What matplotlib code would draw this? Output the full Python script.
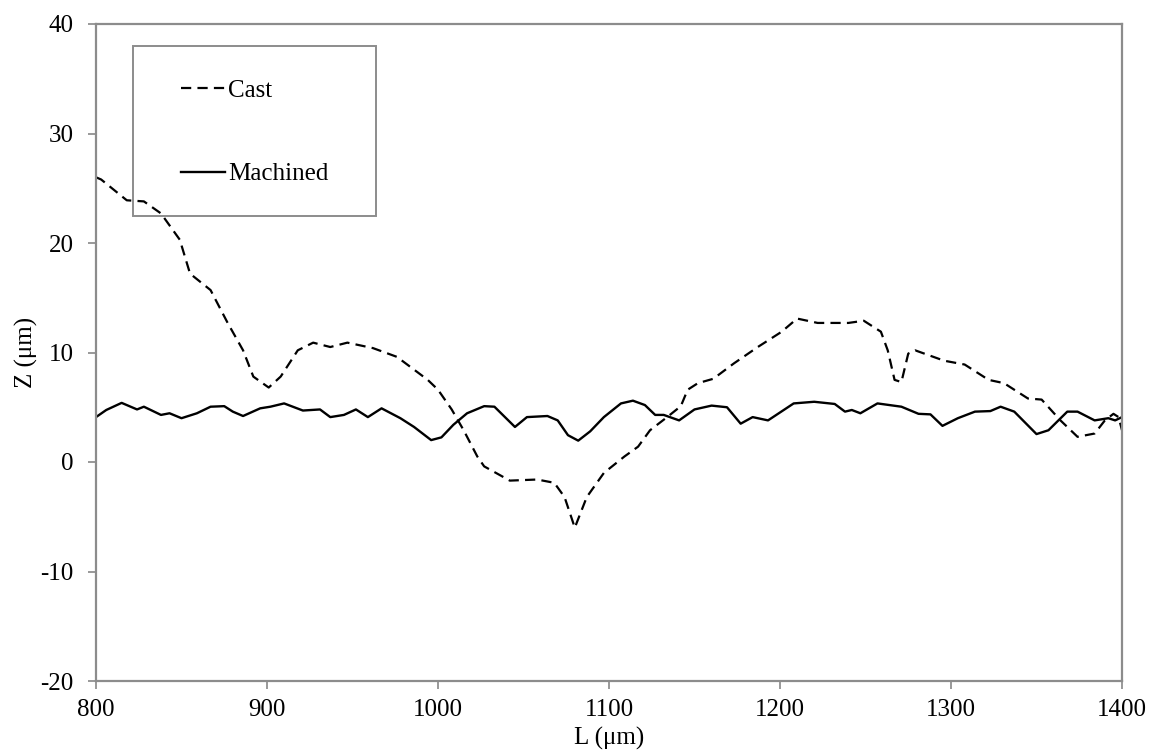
import numpy as np
import matplotlib.pyplot as plt
from matplotlib.patches import Rectangle

# profile of the cast surface (L in um, Z in um)
cast_L = [800, 803, 818, 828, 838, 849, 855, 867, 877, 886, 892, 901, 908, 918, 927,
          937, 947, 962, 976, 994, 1000, 1008, 1015, 1023, 1027, 1042, 1058, 1068, 1074,
          1080, 1087, 1097, 1109, 1117, 1124, 1134, 1142, 1146, 1152, 1161, 1173, 1187,
          1201, 1210, 1222, 1232, 1240, 1249, 1259, 1263, 1267, 1271, 1275, 1279, 1296,
          1308, 1322, 1331, 1345, 1353, 1364, 1374, 1384, 1390, 1395, 1398, 1400]
cast_Z = [26.0, 25.8, 23.9, 23.8, 22.7, 20.3, 17.2, 15.7, 12.7, 10.2, 7.8, 6.8, 7.8, 10.2, 10.9,
          10.5, 10.9, 10.4, 9.6, 7.5, 6.6, 4.8, 2.9, 0.5, -0.4, -1.7, -1.6, -1.9, -3.2,
          -6.0, -3.2, -1.0, 0.5, 1.4, 2.9, 4.1, 5.1, 6.6, 7.2, 7.6, 9.0, 10.5,
          11.9, 13.1, 12.7, 12.7, 12.7, 12.9, 11.9, 10.2, 7.5, 7.3, 9.9, 10.2, 9.25,
          8.9, 7.5, 7.2, 5.8, 5.7, 3.8, 2.3, 2.6, 3.8, 4.4, 4.1, 2.9]

# profile of the machined surface
mach_L = [800, 806, 815, 824, 828, 838, 843, 850, 859, 867, 875, 880, 886, 896, 902,
          910, 921, 931, 937, 945, 952, 959, 967, 978, 986, 996, 1002, 1009, 1017, 1027,
          1033, 1045, 1052, 1064, 1070, 1076, 1082, 1089, 1097, 1107, 1114, 1121, 1127,
          1132, 1141, 1150, 1160, 1169, 1177, 1184, 1193, 1208, 1220, 1232, 1238, 1242,
          1247, 1257, 1271, 1281, 1288, 1295, 1304, 1314, 1323, 1329, 1337, 1350, 1357,
          1368, 1374, 1384, 1392, 1396, 1400]
mach_Z = [4.1, 4.75, 5.4, 4.8, 5.05, 4.3, 4.45, 4.0, 4.45, 5.05, 5.1, 4.6, 4.2, 4.9, 5.05,
          5.35, 4.7, 4.8, 4.1, 4.3, 4.8, 4.1, 4.9, 4.0, 3.2, 2.0, 2.25, 3.4, 4.45, 5.1,
          5.05, 3.2, 4.1, 4.2, 3.8, 2.45, 1.95, 2.8, 4.1, 5.35, 5.6, 5.2, 4.3,
          4.3, 3.8, 4.8, 5.15, 5.0, 3.5, 4.1, 3.8, 5.35, 5.5, 5.3, 4.6, 4.75,
          4.45, 5.35, 5.05, 4.4, 4.35, 3.3, 4.0, 4.6, 4.65, 5.05, 4.6, 2.55, 2.9,
          4.6, 4.6, 3.8, 4.0, 3.8, 4.1]

x_ticks = [800, 900, 1000, 1100, 1200, 1300, 1400]
y_ticks = [-20, -10, 0, 10, 20, 30, 40]

plt.rcParams['font.family'] = ['Liberation Serif', 'DejaVu Serif']
plt.rcParams['axes.unicode_minus'] = False

fig = plt.figure(figsize=(11.51, 7.56), dpi=100)
ax = fig.add_axes([96 / 1151, 1 - 681 / 756, 1026 / 1151, 657 / 756])

ax.plot(cast_L, cast_Z, color='black', linewidth=1.6, dashes=(4.6, 2.8), label='Cast')
ax.plot(mach_L, mach_Z, color='black', linewidth=1.7, label='Machined')

ax.set_xlim(800, 1400)
ax.set_ylim(-20, 40)
ax.set_xticks(x_ticks)
ax.set_yticks(y_ticks)
ax.tick_params(axis='both', labelsize=18, color='#888888', length=6, width=1.2,
               direction='out')
ax.tick_params(axis='y', pad=10)
ax.tick_params(axis='x', pad=7)
for s in ax.spines.values():
    s.set_color('#8c8c8c')
    s.set_linewidth(1.6)

ax.set_xlabel('L (\u03bcm)', fontsize=18, labelpad=4)
ax.set_ylabel('Z (\u03bcm)', fontsize=18, labelpad=2)

# legend box
ax.add_patch(Rectangle((0.036, 0.708), 0.237, 0.2585, transform=ax.transAxes,
                       fill=False, edgecolor='#8c8c8c', linewidth=1.4, zorder=5))
ax.legend(loc='upper left', bbox_to_anchor=(0.0828, 0.916), frameon=False,
          fontsize=18, borderpad=0, borderaxespad=0, handlelength=1.75,
          handletextpad=0.15, labelspacing=2.45)

fig.savefig('out.png', dpi=100, facecolor='white')
